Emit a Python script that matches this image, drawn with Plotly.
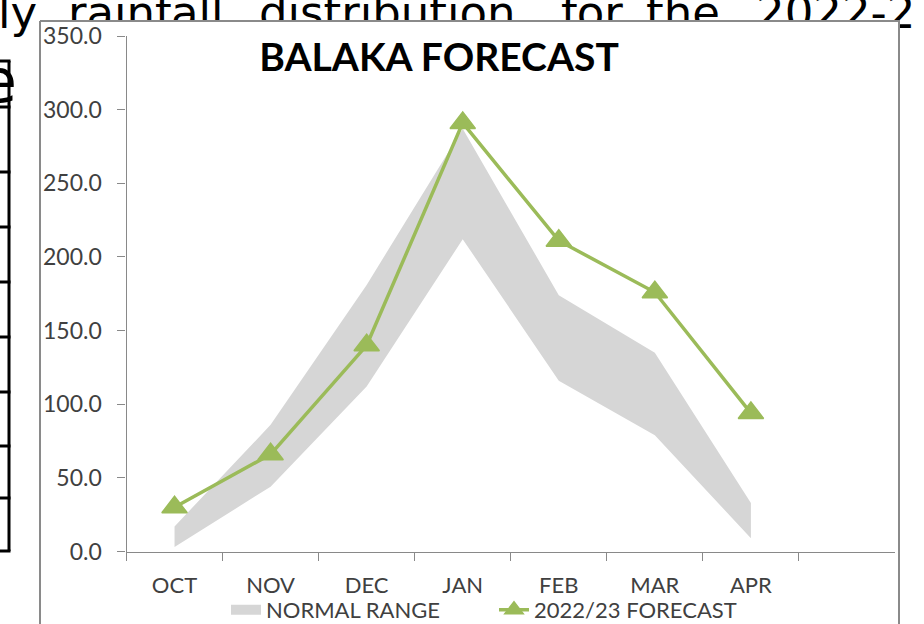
import plotly.graph_objects as go

# ---------------- data ----------------
months = ["OCT", "NOV", "DEC", "JAN", "FEB", "MAR", "APR"]
normal_low = [3, 44, 112, 212, 116, 79, 9]
normal_high = [17, 86, 181, 287, 174, 135, 33]
forecast = [30, 66, 140, 291, 211, 176, 94]
y_ticks = [0, 50, 100, 150, 200, 250, 300, 350]
extra_category = [" "]

# background document text (partly hidden behind the chart box)
doc_line1_words = ["ly", "rainfall", "distribution", "for", "the", "2022-2"]
doc_line2_words = ["e"]

# ---------------- layout helpers (pixels of the 924x624 page) ----------------
W, H = 924, 624


def fx(px):
    return px / W


def fy(py):
    return 1 - py / H


line1_x = [-2, 68, 259, 561, 646, 756]
line1_size = 45
line1_baseline = 28
line2_x = [-20]
line2_size = 60
line2_baseline = 102

GRAY_AXIS = "#898989"
LABEL = "#404040"
GREEN = "#9bbb59"
BAND = "#d6d6d6"
FONT = "Lato"

fig = go.Figure()

# document text behind the chart
fig.add_trace(go.Scatter(
    x=line1_x, y=[line1_baseline - 0.25 * line1_size] * len(line1_x),
    mode="text", text=doc_line1_words, textposition="middle right",
    textfont=dict(family="DejaVu Sans", size=line1_size, color="black"),
    hoverinfo="skip", showlegend=False, xaxis="x", yaxis="y"))
fig.add_trace(go.Scatter(
    x=line2_x, y=[line2_baseline - 0.25 * line2_size] * len(line2_x),
    mode="text", text=doc_line2_words, textposition="middle right",
    textfont=dict(family="DejaVu Sans", size=line2_size, color="black"),
    hoverinfo="skip", showlegend=False, xaxis="x", yaxis="y"))

# table border lines at the left edge of the page
rows = [61, 107, 172, 227, 282, 337, 392, 446, 498, 551]
tx, ty = [9, 9, None], [61, 551, None]
for r in rows:
    tx += [-5, 10.5, None]
    ty += [r, r, None]
fig.add_trace(go.Scatter(x=tx, y=ty, mode="lines", line=dict(color="black", width=3),
                         hoverinfo="skip", showlegend=False, xaxis="x", yaxis="y"))

# chart area box (white, covers the document text)
fig.add_trace(go.Scatter(
    x=[40, 899, 899, 40, 40], y=[21, 21, 700, 700, 21], mode="lines",
    fill="toself", fillcolor="white", line=dict(color="#8a8a8a", width=2),
    hoverinfo="skip", showlegend=False, xaxis="x", yaxis="y"))

# ---------------- chart ----------------
fig.add_trace(go.Scatter(
    x=months, y=normal_low, mode="lines", line=dict(width=0, color=BAND),
    showlegend=False, hoverinfo="skip", xaxis="x2", yaxis="y2"))
fig.add_trace(go.Scatter(
    x=months, y=normal_high, mode="lines", line=dict(width=0, color=BAND),
    fill="tonexty", fillcolor=BAND, name="NORMAL RANGE", showlegend=False,
    legendgroup="normal", xaxis="x2", yaxis="y2"))
# legend swatch for the normal range (no data drawn)
fig.add_trace(go.Scatter(
    x=[None], y=[None], mode="lines", line=dict(width=15, color=BAND),
    name="NORMAL RANGE", legendgroup="normal", hoverinfo="skip",
    xaxis="x2", yaxis="y2"))
fig.add_trace(go.Scatter(
    x=months, y=forecast, mode="lines+markers",
    line=dict(color=GREEN, width=3.5),
    marker=dict(symbol="triangle-up", size=22, color=GREEN, line=dict(color=GREEN, width=1.5)),
    name="2022/23 FORECAST", xaxis="x2", yaxis="y2"))

fig.update_layout(
    width=W, height=H,
    margin=dict(l=0, r=0, t=0, b=0, autoexpand=False),
    paper_bgcolor="white", plot_bgcolor="rgba(0,0,0,0)",
    xaxis=dict(domain=[0, 1], range=[0, W], visible=False, fixedrange=True, automargin=False),
    yaxis=dict(domain=[0, 1], range=[H, 0], visible=False, fixedrange=True, automargin=False),
    xaxis2=dict(
        anchor="y2", domain=[fx(126.5), fx(895)], automargin=False,
        type="category", categoryorder="array", categoryarray=months + extra_category,
        range=[-0.5, 7.5], tickson="boundaries", ticks="outside", ticklen=8,
        tickcolor=GRAY_AXIS, tickwidth=1.3, showline=True, linecolor=GRAY_AXIS, linewidth=1.3,
        showgrid=False, zeroline=False, ticklabelstandoff=14,
        tickfont=dict(family=FONT, size=22, color=LABEL)),
    yaxis2=dict(
        anchor="x2", domain=[fy(551.5), fy(36)], automargin=False,
        range=[0, 350], tickmode="array", tickvals=y_ticks, tickformat=".1f",
        ticks="outside", ticklen=8, tickcolor=GRAY_AXIS, tickwidth=1.3,
        showline=True, linecolor=GRAY_AXIS, linewidth=1.3,
        showgrid=False, zeroline=False, ticklabelstandoff=11,
        tickfont=dict(family=FONT, size=23, color=LABEL)),
    title=dict(text="<b>BALAKA FORECAST</b>", x=fx(439), xanchor="center",
               y=fy(57.5), yanchor="middle", xref="paper", yref="paper",
               font=dict(family=FONT, size=39, color="black")),
    showlegend=True,
    legend=dict(orientation="h", traceorder="normal", x=fx(226), xanchor="left",
                y=-0.011, yanchor="bottom", entrywidth=223, entrywidthmode="pixels",
                bgcolor="rgba(0,0,0,0)", font=dict(family=FONT, size=22, color=LABEL)),
)

fig.write_html("out.html", config={"displayModeBar": False},
               post_script="document.body.style.margin='0px';")
